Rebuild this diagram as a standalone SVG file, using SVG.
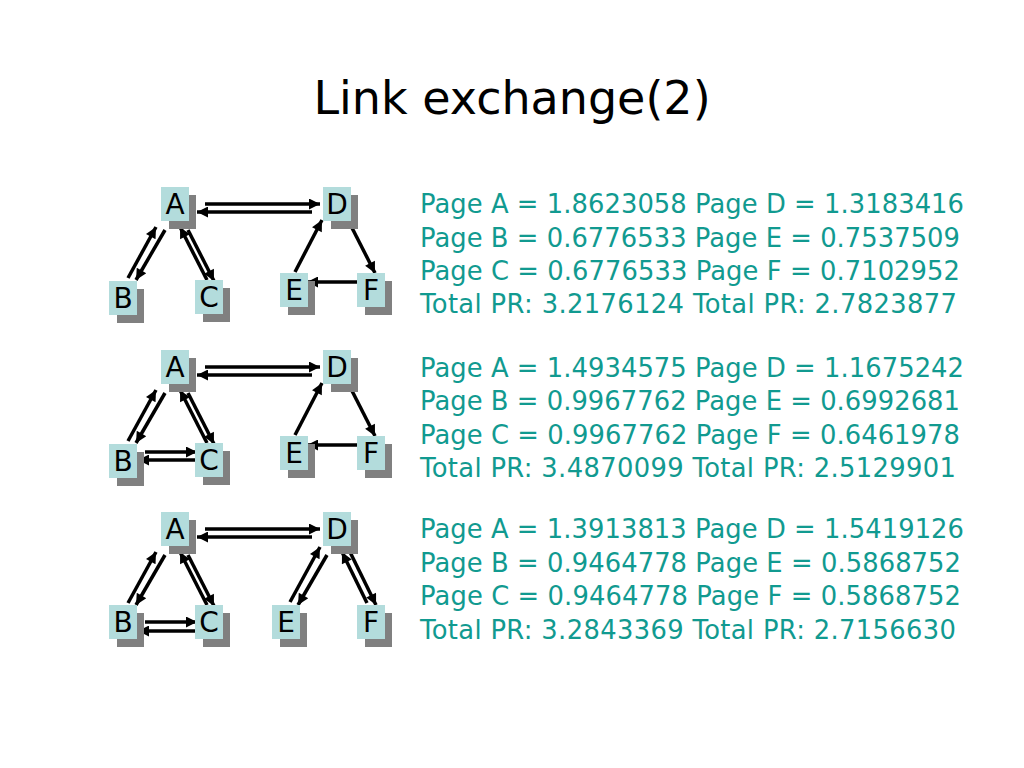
<svg xmlns="http://www.w3.org/2000/svg" width="1024" height="768" viewBox="0 0 1024 768">
<defs>
<marker id="ah" viewBox="0 0 10 10" refX="10" refY="5" markerWidth="13" markerHeight="11" markerUnits="userSpaceOnUse" orient="auto">
<path d="M0,0 L10,5 L0,10 z" fill="#000"/>
</marker>
<g id="nodebox">
<rect x="-6" y="-9" width="27" height="34" fill="#808080"/>
<rect x="-14" y="-17" width="28" height="34" fill="#b3dcdc"/>
</g>
</defs>
<style>
.t{font-family:"DejaVu Sans",Verdana,sans-serif;font-size:46px;fill:#000;text-anchor:middle}
.lbl{font-family:"DejaVu Sans",Verdana,sans-serif;font-size:28px;fill:#000;text-anchor:middle}
.pr{font-family:"DejaVu Sans",Verdana,sans-serif;font-size:25.8px;fill:#119a90}
.c line{stroke:#000;stroke-width:3.5;marker-end:url(#ah)}
</style>
<rect width="1024" height="768" fill="#fff"/>
<text class="t" x="512" y="114">Link exchange(2)</text>

<!-- Panel 1 -->
<g id="p1-connectors" class="c">
<line x1="205" y1="204" x2="320" y2="204"/>
<line x1="312" y1="212" x2="197" y2="212"/>
<line x1="128" y1="278" x2="156" y2="227"/>
<line x1="165" y1="230" x2="136" y2="280"/>
<line x1="207" y1="280" x2="180" y2="227"/>
<line x1="188" y1="230" x2="214" y2="281"/>
<line x1="295" y1="272" x2="322" y2="220"/>
<line x1="348" y1="220" x2="375" y2="273"/>
<line x1="360" y1="282" x2="307" y2="282"/>
</g>
<g id="p1-A" transform="translate(175,204)"><use href="#nodebox"/><text class="lbl" y="10">A</text></g>
<g id="p1-D" transform="translate(337,204)"><use href="#nodebox"/><text class="lbl" y="10">D</text></g>
<g id="p1-B" transform="translate(123,298)"><use href="#nodebox"/><text class="lbl" y="10">B</text></g>
<g id="p1-C" transform="translate(209,297)"><use href="#nodebox"/><text class="lbl" y="10">C</text></g>
<g id="p1-E" transform="translate(294,290)"><use href="#nodebox"/><text class="lbl" y="10">E</text></g>
<g id="p1-F" transform="translate(371,290)"><use href="#nodebox"/><text class="lbl" y="10">F</text></g>
<g id="p1-text">
<text class="pr" x="420" y="213" textLength="544" lengthAdjust="spacing">Page A = 1.8623058 Page D = 1.3183416</text>
<text class="pr" x="420" y="247" textLength="540" lengthAdjust="spacing">Page B = 0.6776533 Page E = 0.7537509</text>
<text class="pr" x="420" y="280" textLength="540" lengthAdjust="spacing">Page C = 0.6776533 Page F = 0.7102952</text>
<text class="pr" x="420" y="313" textLength="537" lengthAdjust="spacing">Total PR: 3.2176124 Total PR: 2.7823877</text>
</g>

<!-- Panel 2 -->
<g id="p2-connectors" class="c">
<line x1="205" y1="367" x2="320" y2="367"/>
<line x1="312" y1="375" x2="197" y2="375"/>
<line x1="128" y1="441" x2="156" y2="390"/>
<line x1="165" y1="393" x2="136" y2="443"/>
<line x1="207" y1="443" x2="180" y2="390"/>
<line x1="188" y1="393" x2="214" y2="444"/>
<line x1="145" y1="452" x2="197" y2="452"/>
<line x1="197" y1="460" x2="138" y2="460"/>
<line x1="295" y1="435" x2="322" y2="383"/>
<line x1="348" y1="383" x2="375" y2="436"/>
<line x1="360" y1="445" x2="307" y2="445"/>
</g>
<g id="p2-A" transform="translate(175,367)"><use href="#nodebox"/><text class="lbl" y="10">A</text></g>
<g id="p2-D" transform="translate(337,367)"><use href="#nodebox"/><text class="lbl" y="10">D</text></g>
<g id="p2-B" transform="translate(123,461)"><use href="#nodebox"/><text class="lbl" y="10">B</text></g>
<g id="p2-C" transform="translate(209,460)"><use href="#nodebox"/><text class="lbl" y="10">C</text></g>
<g id="p2-E" transform="translate(294,453)"><use href="#nodebox"/><text class="lbl" y="10">E</text></g>
<g id="p2-F" transform="translate(371,453)"><use href="#nodebox"/><text class="lbl" y="10">F</text></g>
<g id="p2-text">
<text class="pr" x="420" y="377" textLength="544" lengthAdjust="spacing">Page A = 1.4934575 Page D = 1.1675242</text>
<text class="pr" x="420" y="410" textLength="540" lengthAdjust="spacing">Page B = 0.9967762 Page E = 0.6992681</text>
<text class="pr" x="420" y="444" textLength="540" lengthAdjust="spacing">Page C = 0.9967762 Page F = 0.6461978</text>
<text class="pr" x="420" y="477" textLength="536" lengthAdjust="spacing">Total PR: 3.4870099 Total PR: 2.5129901</text>
</g>

<!-- Panel 3 -->
<g id="p3-connectors" class="c">
<line x1="205" y1="529" x2="320" y2="529"/>
<line x1="312" y1="537" x2="197" y2="537"/>
<line x1="128" y1="603" x2="156" y2="552"/>
<line x1="165" y1="555" x2="136" y2="605"/>
<line x1="207" y1="605" x2="180" y2="552"/>
<line x1="188" y1="555" x2="214" y2="606"/>
<line x1="145" y1="622" x2="197" y2="622"/>
<line x1="197" y1="631" x2="138" y2="631"/>
<line x1="290" y1="602" x2="320" y2="547"/>
<line x1="327" y1="555" x2="298" y2="605"/>
<line x1="367" y1="603" x2="342" y2="552"/>
<line x1="350" y1="552" x2="376" y2="605"/>
</g>
<g id="p3-A" transform="translate(175,529)"><use href="#nodebox"/><text class="lbl" y="10">A</text></g>
<g id="p3-D" transform="translate(337,529)"><use href="#nodebox"/><text class="lbl" y="10">D</text></g>
<g id="p3-B" transform="translate(123,622)"><use href="#nodebox"/><text class="lbl" y="10">B</text></g>
<g id="p3-C" transform="translate(209,622)"><use href="#nodebox"/><text class="lbl" y="10">C</text></g>
<g id="p3-E" transform="translate(286,622)"><use href="#nodebox"/><text class="lbl" y="10">E</text></g>
<g id="p3-F" transform="translate(371,622)"><use href="#nodebox"/><text class="lbl" y="10">F</text></g>
<g id="p3-text">
<text class="pr" x="420" y="538" textLength="544" lengthAdjust="spacing">Page A = 1.3913813 Page D = 1.5419126</text>
<text class="pr" x="420" y="572" textLength="541" lengthAdjust="spacing">Page B = 0.9464778 Page E = 0.5868752</text>
<text class="pr" x="420" y="605" textLength="541" lengthAdjust="spacing">Page C = 0.9464778 Page F = 0.5868752</text>
<text class="pr" x="420" y="639" textLength="536" lengthAdjust="spacing">Total PR: 3.2843369 Total PR: 2.7156630</text>
</g>
</svg>
